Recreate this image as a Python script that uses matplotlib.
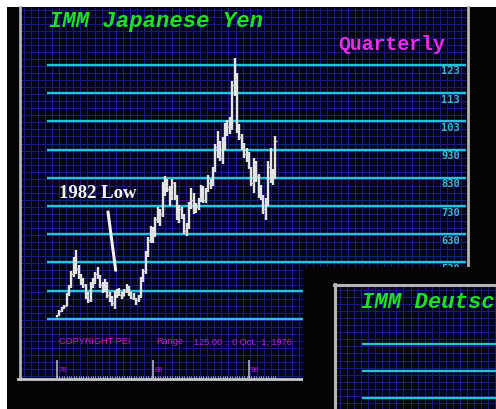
import matplotlib
matplotlib.use("Agg")
import matplotlib.pyplot as plt
from matplotlib.patches import Rectangle
from matplotlib.transforms import blended_transform_factory, offset_copy
import numpy as np

W, H = 496, 409

# IMM Japanese Yen, quarterly bars, Q4 1976 .. Q3 1999
opens = [0.338, 0.342, 0.358, 0.368, 0.376, 0.415, 0.445, 0.490, 0.530, 0.505,
         0.480, 0.460, 0.450, 0.415, 0.395, 0.450, 0.465, 0.490, 0.480, 0.450,
         0.440, 0.455, 0.415, 0.400, 0.385, 0.420, 0.420, 0.415, 0.410, 0.430,
         0.440, 0.415, 0.405, 0.400, 0.395, 0.410, 0.470, 0.500, 0.560, 0.610,
         0.640, 0.625, 0.685, 0.690, 0.700, 0.810, 0.800, 0.790, 0.765, 0.810,
         0.755, 0.700, 0.720, 0.695, 0.640, 0.660, 0.735, 0.750, 0.715, 0.725,
         0.755, 0.800, 0.750, 0.790, 0.810, 0.805, 0.860, 0.940, 0.950, 0.900,
         0.965, 1.015, 1.010, 1.005, 1.160, 1.180, 1.000, 0.975, 0.935, 0.915,
         0.900, 0.865, 0.810, 0.880, 0.835, 0.770, 0.760, 0.720, 0.740, 0.870,
         0.840, 0.830]
highs = [0.345, 0.362, 0.372, 0.380, 0.420, 0.450, 0.500, 0.550, 0.575, 0.520,
         0.490, 0.475, 0.455, 0.425, 0.460, 0.475, 0.495, 0.515, 0.485, 0.460,
         0.470, 0.460, 0.425, 0.410, 0.430, 0.435, 0.440, 0.425, 0.435, 0.455,
         0.445, 0.425, 0.420, 0.405, 0.415, 0.480, 0.505, 0.570, 0.620, 0.660,
         0.655, 0.690, 0.725, 0.720, 0.815, 0.835, 0.825, 0.800, 0.825, 0.815,
         0.770, 0.735, 0.725, 0.700, 0.670, 0.745, 0.795, 0.775, 0.740, 0.760,
         0.805, 0.800, 0.795, 0.840, 0.825, 0.870, 0.950, 0.995, 0.960, 0.975,
         1.025, 1.035, 1.045, 1.175, 1.255, 1.200, 1.020, 0.985, 0.955, 0.935,
         0.920, 0.870, 0.900, 0.890, 0.845, 0.805, 0.770, 0.760, 0.890, 0.935,
         0.860, 0.980]
lows = [0.335, 0.340, 0.355, 0.365, 0.375, 0.410, 0.440, 0.480, 0.490, 0.470,
        0.450, 0.440, 0.400, 0.385, 0.390, 0.440, 0.455, 0.470, 0.440, 0.420,
        0.425, 0.405, 0.390, 0.375, 0.365, 0.405, 0.410, 0.400, 0.410, 0.420,
        0.410, 0.400, 0.395, 0.380, 0.390, 0.405, 0.460, 0.490, 0.550, 0.600,
        0.600, 0.620, 0.670, 0.660, 0.690, 0.765, 0.780, 0.730, 0.750, 0.750,
        0.680, 0.670, 0.685, 0.630, 0.625, 0.650, 0.720, 0.700, 0.705, 0.715,
        0.745, 0.740, 0.740, 0.780, 0.790, 0.800, 0.850, 0.900, 0.890, 0.880,
        0.930, 0.980, 0.985, 1.000, 1.120, 0.990, 0.965, 0.930, 0.900, 0.885,
        0.860, 0.800, 0.775, 0.815, 0.760, 0.750, 0.700, 0.680, 0.730, 0.810,
        0.805, 0.825]
closes = opens[1:] + [0.960]

levels = [1.23, 1.13, 1.03, 0.93, 0.83, 0.73, 0.63, 0.53, 0.43, 0.33]
level_labels = ["123", "113", "103", "930", "830", "730", "630", "530"]
year_ticks = [0, 40, 80]
year_labels = ["76", "86", "96"]

# screen layout (pixels)
X0_PX, PX_PER_Q = 57, 2.4          # first bar / quarter spacing
Y_REF_PX, PX_PER_UNIT = 65, 282    # row of the 1.23 line / pixels per 1.00
NAVY, GRID = "#03031a", "#1b1b86"
CYAN, GREY = "#22c4d6", "#b4b4b4"
MAGENTA = "#c021c8"

fig = plt.figure(figsize=(W / 100, H / 100), dpi=100, facecolor="white")

# ---- background window (pixel coords)
bg = fig.add_axes([0, 0, 1, 1])
bg.set_xlim(0, W)
bg.set_ylim(H, 0)
bg.axis("off")
bg.add_patch(Rectangle((7, 7), W - 7, H - 7, color="#050505", lw=0))
bg.add_patch(Rectangle((21, 7), 445, 371, color=NAVY, lw=0))
bg.vlines(np.arange(24, 466, 7.05), 7, 378, color=GRID, lw=0.7)
bg.hlines(np.arange(9.6, 378, 7.05), 21, 466, color=GRID, lw=0.7)
bg.plot([19.5, 19.5], [7, 379], color=GREY, lw=2)
bg.plot([467.5, 467.5], [7, 300], color=GREY, lw=2)
bg.plot([18, 466], [378.5, 378.5], color="#c8c8c8", lw=2)

bg.text(49, 27, "IMM Japanese Yen", color="#1fe01f", fontsize=16,
        family="Liberation Mono", fontweight="bold", fontstyle="italic", va="baseline")
bg.text(338, 50, "Quarterly", color="#e82ee8", fontsize=14.3,
        family="Liberation Mono", fontweight="bold", va="baseline")
bg.text(59, 342, "COPYRIGHT PEI", color=MAGENTA, fontsize=6.6,
        family="Liberation Sans", va="center")
bg.text(156, 342, "Range", color=MAGENTA, fontsize=6.6,
        family="Liberation Sans", va="center")
bg.text(194, 342, "125.00 .. 0 Oct.  1, 1976", color=MAGENTA, fontsize=6.6,
        family="Liberation Sans", va="center")

# ---- price chart
left_px, right_px, top_px, bottom_px = 21, 466, 7, 378
ax = fig.add_axes([left_px / W, 1 - bottom_px / H,
                   (right_px - left_px) / W, (bottom_px - top_px) / H])
ax.patch.set_alpha(0)
ax.axis("off")
ax.set_xlim((left_px - X0_PX) / PX_PER_Q, (right_px - X0_PX) / PX_PER_Q)
ax.set_ylim(1.23 - (bottom_px - Y_REF_PX) / PX_PER_UNIT,
            1.23 + (Y_REF_PX - top_px) / PX_PER_UNIT)

ax.hlines(levels, (47 - X0_PX) / PX_PER_Q, ax.get_xlim()[1], color=CYAN, lw=1.7)
lab_tr = offset_copy(blended_transform_factory(ax.transAxes, ax.transData),
                     fig=fig, y=-1.5, units="dots")
for lv, lab in zip(levels, level_labels):
    ax.text((460 - left_px) / (right_px - left_px), lv, lab, transform=lab_tr,
            color="#3bb8cc", fontsize=7.5, family="DejaVu Sans Mono",
            fontweight="bold", ha="right", va="top")

idx = np.arange(len(highs))
ax.vlines(idx, lows, highs, color="#e4e4e4", lw=1.7)
ax.hlines(opens, idx - 0.6, idx, color="#d0d0d0", lw=0.9)
ax.hlines(closes, idx, idx + 0.6, color="#d0d0d0", lw=0.9)

ax.text(0.8, 0.758, "1982 Low", color="#f4f4f4", fontsize=13.5,
        family="Liberation Serif", fontweight="bold", va="baseline")
ax.annotate("", xy=(24.6, 0.492), xytext=(21.1, 0.719),
            arrowprops=dict(arrowstyle="-", color="#f0f0f0", lw=2.2))

xt = blended_transform_factory(ax.transData, ax.transAxes)
ax.vlines(year_ticks, 0, 18 / 371, transform=xt, color=GREY, lw=1.2)
ax.vlines(idx, 0, 2 / 371, transform=xt, color="#e0e0e0", lw=0.5)
lab_x = offset_copy(xt, fig=fig, x=2, units="dots")
for t, lab in zip(year_ticks, year_labels):
    ax.text(t, 7 / 371, lab, transform=lab_x, color=MAGENTA, fontsize=5.5,
            family="Liberation Sans", va="center")

# ---- second window (IMM Deutsche Mark) overlapping bottom right
ov = fig.add_axes([303 / W, 0, (W - 303) / W, (H - 267) / H])
ov.set_xlim(303, W)
ov.set_ylim(H, 267)
ov.axis("off")
ov.add_patch(Rectangle((303, 267), W - 303, H - 267, color="#050505", lw=0))
ov.add_patch(Rectangle((336, 286), W - 336, H - 286, color=NAVY, lw=0))
ov.vlines(np.arange(340, W, 7.05), 286, H, color=GRID, lw=0.7)
ov.hlines(np.arange(290, H, 7.05), 336, W, color=GRID, lw=0.7)
ov.plot([335, 335], [284, H], color=GREY, lw=2.2)
ov.plot([334, W], [285, 285], color=GREY, lw=2.2)
ov.hlines([344, 371, 398], 362, W, color=CYAN, lw=1.7)
ov.text(361, 308, "IMM Deutsc", color="#1fe01f", fontsize=16,
        family="Liberation Mono", fontweight="bold", fontstyle="italic",
        va="baseline")

fig.savefig("out.png", dpi=100, facecolor="white")
